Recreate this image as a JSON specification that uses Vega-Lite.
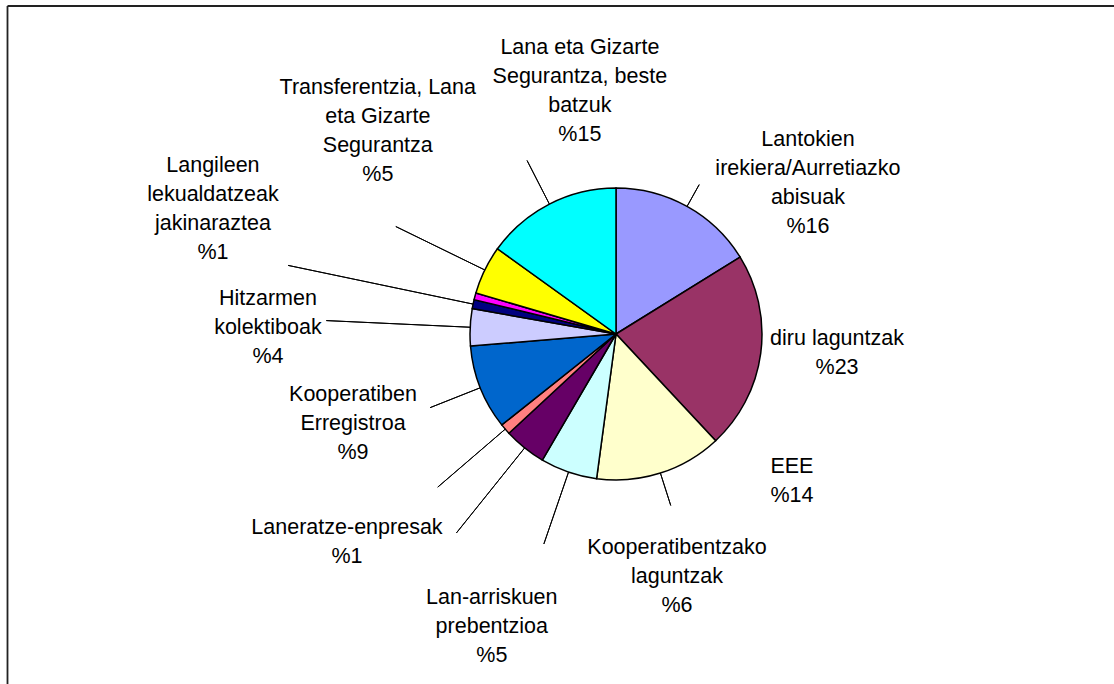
{
  "$schema": "https://vega.github.io/schema/vega-lite/v6.json",
  "autosize": "none",
  "width": 996,
  "height": 668,
  "padding": {"left": 118, "top": 0, "right": 0, "bottom": 16},
  "background": "white",
  "config": {"view": {"stroke": null}},
  "data": {"values": [
    {"category": "Lantokien irekiera/Aurretiazko abisuak", "value": 16.2, "label": "Lantokien\nirekiera/Aurretiazko\nabisuak\n%16"},
    {"category": "diru laguntzak", "value": 21.9, "label": "diru laguntzak\n%23"},
    {"category": "EEE", "value": 14.1, "label": "EEE\n%14"},
    {"category": "Kooperatibentzako laguntzak", "value": 6.3, "label": "Kooperatibentzako\nlaguntzak\n%6"},
    {"category": "Lan-arriskuen prebentzioa", "value": 4.7, "label": "Lan-arriskuen\nprebentzioa\n%5"},
    {"category": "Laneratze-enpresak", "value": 1.2, "label": "Laneratze-enpresak\n%1"},
    {"category": "Kooperatiben Erregistroa", "value": 9.4, "label": "Kooperatiben\nErregistroa\n%9"},
    {"category": "Hitzarmen kolektiboak", "value": 4.1, "label": "Hitzarmen\nkolektiboak\n%4"},
    {"category": "Langileen lekualdatzeak jakinaraztea", "value": 1.0, "label": "Langileen\nlekualdatzeak\njakinaraztea\n%1"},
    {"category": "Besteak", "value": 0.75, "label": ""},
    {"category": "Transferentzia, Lana eta Gizarte Segurantza", "value": 5.4, "label": "Transferentzia, Lana\neta Gizarte\nSegurantza\n%5"},
    {"category": "Lana eta Gizarte Segurantza, beste batzuk", "value": 15.1, "label": "Lana eta Gizarte\nSegurantza, beste\nbatzuk\n%15"}
  ]},
  "transform": [{"window": [{"op": "row_number", "as": "rank"}]}],
  "layer": [
    {
      "mark": {"type": "arc", "radius": 146, "stroke": "#000000", "strokeWidth": 1.5},
      "encoding": {
        "theta": {"field": "value", "type": "quantitative", "stack": true},
        "order": {"field": "rank", "type": "quantitative"},
        "color": {
          "field": "category", "type": "nominal", "legend": null,
          "scale": {
            "domain": ["Lantokien irekiera/Aurretiazko abisuak", "diru laguntzak", "EEE", "Kooperatibentzako laguntzak", "Lan-arriskuen prebentzioa", "Laneratze-enpresak", "Kooperatiben Erregistroa", "Hitzarmen kolektiboak", "Langileen lekualdatzeak jakinaraztea", "Besteak", "Transferentzia, Lana eta Gizarte Segurantza", "Lana eta Gizarte Segurantza, beste batzuk"],
            "range": ["#9999FF", "#993366", "#FFFFCC", "#CCFFFF", "#660066", "#FF8080", "#0066CC", "#CCCCFF", "#000080", "#FF00FF", "#FFFF00", "#00FFFF"]
          }
        }
      }
    },
    {
      "mark": {"type": "arc", "padAngle": 3.14159, "fill": null, "fillOpacity": 0, "stroke": "#000000", "strokeWidth": 1},
      "encoding": {
        "theta": {"field": "value", "type": "quantitative", "stack": true},
        "order": {"field": "rank", "type": "quantitative"},
        "detail": {"field": "category", "type": "nominal"},
        "radius": {
          "field": "value", "type": "quantitative",
          "scale": {"type": "linear", "zero": false, "nice": false,
            "domain": [0.75, 1.0, 1.2, 4.1, 4.7, 5.4, 6.3, 9.4, 14.1, 15.1, 16.2, 21.9],
            "range": [146, 335, 235, 290, 255, 245, 222, 200, 180, 195, 171, 146]}
        },
        "radius2": {"value": 146}
      }
    },
    {
      "mark": {"type": "text", "font": "Liberation Sans", "fontSize": 21.5, "lineHeight": 29, "lineBreak": "\n", "align": "center", "baseline": "middle", "color": "#000000"},
      "encoding": {
        "text": {"field": "label", "type": "nominal"},
        "theta": {
          "field": "value", "type": "quantitative", "stack": null,
          "scale": {"type": "linear", "zero": false, "nice": false,
            "domain": [0.75, 1.0, 1.2, 4.1, 4.7, 5.4, 6.3, 9.4, 14.1, 15.1, 16.2, 21.9],
            "range": [4.9742, 5.1068, 4.0876, 4.8119, 3.5814, 5.5135, 2.8641, 4.4838, 2.2183, 6.1575, 0.7802, 1.5935]}
        },
        "radius": {
          "field": "value", "type": "quantitative",
          "scale": {"type": "linear", "zero": false, "nice": false,
            "domain": [0.75, 1.0, 1.2, 4.1, 4.7, 5.4, 6.3, 9.4, 14.1, 15.1, 16.2, 21.9],
            "range": [300, 436.6, 331.7, 349.8, 291.7, 342.3, 222.5, 270.0, 220.6, 288.3, 272.9, 221.1]}
        }
      }
    },
    {
      "data": {"values": [{}]},
      "mark": {"type": "rule", "stroke": "#222222", "strokeWidth": 1.8},
      "encoding": {"x": {"value": -110.5}, "y": {"value": 6}, "y2": {"value": 700}}
    },
    {
      "data": {"values": [{}]},
      "mark": {"type": "rule", "stroke": "#222222", "strokeWidth": 1.8},
      "encoding": {"x": {"value": -110.5}, "x2": {"value": 1000}, "y": {"value": 6}}
    }
  ],
  "resolve": {"scale": {"theta": "independent", "radius": "independent"}}
}
